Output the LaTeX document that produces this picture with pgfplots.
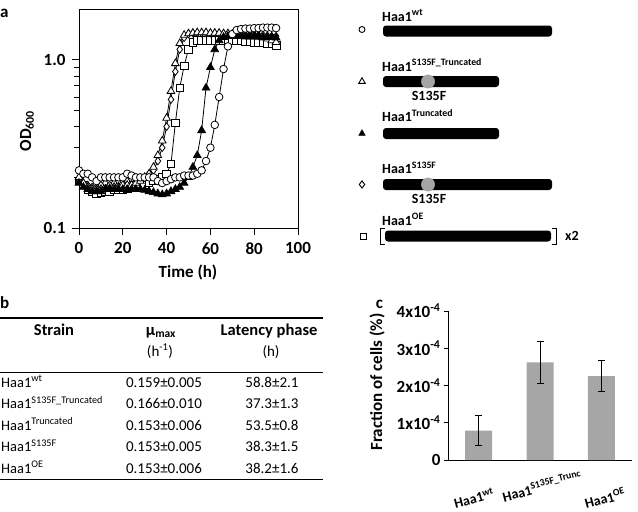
\documentclass[border=0pt]{standalone}
\usepackage{pgfplots}
\pgfplotsset{compat=1.18}
\usepackage{fontspec}
\setmainfont{Carlito}
\newcommand\FS[1]{\fontsize{#1}{#1}\selectfont}
\definecolor{bargray}{RGB}{166,166,166}
\definecolor{dotgray}{RGB}{165,165,165}
\pgfplotsset{ser/.style={black, line width=0.8pt, mark size=3.8pt, mark options={solid, line width=0.8pt, fill=white}}}

\begin{document}
\begin{tikzpicture}
\useasboundingbox (0,0) rectangle (638pt,-512pt);

% ---------------- panel a: growth curves
\begin{axis}[
  at={(79pt,-228pt)}, anchor=south west,
  scale only axis, width=219pt, height=219pt,
  xmin=0, xmax=100, ymode=log, ymin=0.1, ymax=2,
  xtick={0,20,40,60,80,100},
  ytick={0.1,1}, yticklabels={0.1,1.0},
  minor ytick={0.2,0.3,0.4,0.5,0.6,0.7,0.8,0.9},
  tick align=outside, tick pos=left,
  major tick length=7pt, minor tick length=5pt,
  every tick/.style={black, line width=0.8pt},
  axis line style={black, line width=0.8pt},
  ticklabel style={font=\FS{17}\bfseries},
  /pgf/number format/assume math mode=true,
  xticklabel style={yshift=-4pt},
  yticklabel style={xshift=-3pt},
  clip=false,
]
\addplot[ser, mark=square*] table {
0 0.19
2 0.18
4 0.17
6 0.165
8 0.16
10 0.162
12 0.165
14 0.165
16 0.168
18 0.17
20 0.17
22 0.172
24 0.175
26 0.175
28 0.178
30 0.18
32 0.185
34 0.19
36 0.195
38 0.20
40 0.21
42 0.24
44 0.42
46 0.68
48 0.92
50 1.15
52 1.27
54 1.30
56 1.30
58 1.30
60 1.30
62 1.30
64 1.30
66 1.30
68 1.30
70 1.30
72 1.29
74 1.29
76 1.28
78 1.28
80 1.27
82 1.27
84 1.26
86 1.25
88 1.24
90 1.22
};
\addplot[ser, mark=diamond*] table {
0 0.19
2 0.185
4 0.18
6 0.175
8 0.175
10 0.18
12 0.185
14 0.18
16 0.185
18 0.19
20 0.19
22 0.19
24 0.195
26 0.19
28 0.195
30 0.20
32 0.21
34 0.22
36 0.25
38 0.30
40 0.40
42 0.58
44 0.85
46 1.15
48 1.35
50 1.42
52 1.44
54 1.44
56 1.44
58 1.44
60 1.44
62 1.44
64 1.43
66 1.43
68 1.43
70 1.42
72 1.42
74 1.42
76 1.41
78 1.41
80 1.41
82 1.40
84 1.40
86 1.39
88 1.38
90 1.38
};
\addplot[ser, mark=triangle*, mark size=4.4pt] table {
0 0.20
2 0.185
4 0.175
6 0.17
8 0.17
10 0.17
12 0.17
14 0.172
16 0.175
18 0.175
20 0.18
22 0.18
24 0.18
26 0.185
28 0.19
30 0.20
32 0.21
34 0.23
36 0.27
38 0.33
40 0.45
42 0.65
44 0.95
46 1.25
48 1.40
50 1.43
52 1.44
54 1.45
56 1.45
58 1.45
60 1.44
62 1.44
64 1.44
66 1.43
68 1.43
70 1.42
72 1.42
74 1.41
76 1.40
78 1.40
80 1.39
82 1.37
84 1.35
86 1.33
88 1.30
90 1.27
};
\addplot[ser, mark=triangle*, mark size=4.4pt, mark options={fill=black}] table {
0 0.185
2 0.175
4 0.17
6 0.165
8 0.165
10 0.165
12 0.17
14 0.17
16 0.17
18 0.17
20 0.17
22 0.17
24 0.17
26 0.17
28 0.17
30 0.168
32 0.165
34 0.163
36 0.16
38 0.158
40 0.16
42 0.165
44 0.17
46 0.175
48 0.185
50 0.20
52 0.23
54 0.27
56 0.38
58 0.68
60 0.90
62 1.15
64 1.30
66 1.36
68 1.38
70 1.38
72 1.38
74 1.38
76 1.37
78 1.37
80 1.37
82 1.37
84 1.36
86 1.36
88 1.36
90 1.35
};
\addplot[ser, mark=*] table {
0 0.22
2 0.21
4 0.21
6 0.20
8 0.19
10 0.20
12 0.20
14 0.20
16 0.20
18 0.20
20 0.20
22 0.21
24 0.205
26 0.20
28 0.20
30 0.20
32 0.20
34 0.20
36 0.19
38 0.185
40 0.19
42 0.195
44 0.20
46 0.20
48 0.205
50 0.205
52 0.205
54 0.21
56 0.22
58 0.25
60 0.30
62 0.41
64 0.60
66 0.88
68 1.20
70 1.42
72 1.50
74 1.52
76 1.53
78 1.53
80 1.54
82 1.54
84 1.55
86 1.55
88 1.55
90 1.54
};
\end{axis}

% ---------------- panel a: legend / schematic
\begin{axis}[
  at={(340pt,0pt)}, anchor=north west,
  scale only axis, width=298pt, height=260pt,
  xmin=340, xmax=638, ymin=0, ymax=260, y dir=reverse,
  hide axis, clip=false,
]
\fill[rounded corners=3pt] (axis cs:383,25.5) rectangle (axis cs:552,36.5);
\fill[rounded corners=3pt] (axis cs:383,76) rectangle (axis cs:499,87);
\fill[rounded corners=3pt] (axis cs:383,128) rectangle (axis cs:499,139);
\fill[rounded corners=3pt] (axis cs:383,179) rectangle (axis cs:552,190);
\fill[rounded corners=3pt] (axis cs:385,230.5) rectangle (axis cs:551,241.5);
\draw[line width=1pt] (axis cs:384.5,228) -- (axis cs:380.5,228) -- (axis cs:380.5,244.5) -- (axis cs:384.5,244.5);
\draw[line width=1pt] (axis cs:552,228) -- (axis cs:556,228) -- (axis cs:556,244.5) -- (axis cs:552,244.5);
\addplot[only marks, mark=*, mark size=6.7pt, dotgray] coordinates {(428,81.5) (428,184.5)};
\addplot[only marks, black, mark=o, mark size=3pt, line width=0.9pt] coordinates {(362,29.5)};
\addplot[only marks, black, mark=triangle, mark size=3.8pt, line width=0.9pt] coordinates {(362,81.5)};
\addplot[only marks, black, mark=triangle*, mark size=3.8pt] coordinates {(362,133.5)};
\addplot[only marks, black, mark=diamond, mark size=3.6pt, line width=0.9pt] coordinates {(362,184.5)};
\addplot[only marks, black, mark=square, mark size=3pt, line width=0.9pt] coordinates {(363,236)};
\end{axis}

% ---------------- panel c: bar chart
\begin{axis}[
  at={(448pt,-460pt)}, anchor=south west,
  scale only axis, width=184pt, height=149pt,
  xmin=-0.5, xmax=2.5, ymin=0, ymax=4,
  axis x line=bottom, axis y line=left,
  axis line style={-, black, line width=0.8pt},
  ytick={0,1,2,3,4},
  yticklabels={0,1x10\textsuperscript{-4},2x10\textsuperscript{-4},3x10\textsuperscript{-4},4x10\textsuperscript{-4}},
  xtick=\empty, minor xtick={-0.5,0.5,1.5,2.5},
  tick align=outside, major tick length=4pt, minor tick length=4pt,
  every tick/.style={black, line width=0.8pt},
  ticklabel style={font=\FS{17}\bfseries},
  ybar, bar width=27pt,
]
\addplot[fill=bargray, draw=none,
  error bars/.cd, y dir=both, y explicit,
  error bar style={line width=1pt, black},
  error mark options={rotate=90, mark size=3.5pt, line width=1pt, black}]
  coordinates {(0,0.79) +- (0,0.41) (1,2.62) +- (0,0.56) (2,2.25) +- (0,0.42)};
\end{axis}

\begin{scope}[x=1pt,y=-1pt]
% panel a labels
\node[anchor=base west, inner sep=0, font=\FS{17}\bfseries] at (0,17) {a};
\node[anchor=base, inner sep=0, font=\FS{17}\bfseries] at (188,277) {Time (h)};
\node[rotate=90, inner sep=0, font=\FS{17}\bfseries] at (27,131) {OD\textsubscript{600}};
% legend labels
\node[anchor=base west, inner sep=0, font=\FS{14}\bfseries] at (382,21) {Haa1\textsuperscript{wt}};
\node[anchor=base west, inner sep=0, font=\FS{14}\bfseries] at (382,71) {Haa1\textsuperscript{S135F\_Truncated}};
\node[anchor=base, inner sep=0, font=\FS{14}\bfseries] at (429,100.5) {S135F};
\node[anchor=base west, inner sep=0, font=\FS{14}\bfseries] at (382,121.5) {Haa1\textsuperscript{Truncated}};
\node[anchor=base west, inner sep=0, font=\FS{14}\bfseries] at (382,173.5) {Haa1\textsuperscript{S135F}};
\node[anchor=base, inner sep=0, font=\FS{14}\bfseries] at (429,203.5) {S135F};
\node[anchor=base west, inner sep=0, font=\FS{14}\bfseries] at (382,225) {Haa1\textsuperscript{OE}};
\node[anchor=base west, inner sep=0, font=\FS{14}\bfseries] at (565,240) {x2};
% panel b table
\node[anchor=base west, inner sep=0, font=\FS{17}\bfseries] at (0,308) {b};
\draw[line width=1.8pt] (0,318.3) -- (323,318.3);
\draw[line width=0.9pt] (0,372) -- (323,372);
\draw[line width=1.8pt] (0,479.5) -- (323,479.5);
\node[anchor=base, inner sep=0, font=\FS{16.5}\bfseries] at (54,335) {Strain};
\node[anchor=base, inner sep=0, font=\FS{16.5}\bfseries] at (161,335) {µ\textsubscript{max}};
\node[anchor=base, inner sep=0, font=\FS{15}] at (160,356) {(h\textsuperscript{-1})};
\node[anchor=base, inner sep=0, font=\FS{16.5}\bfseries] at (269,335) {Latency phase};
\node[anchor=base, inner sep=0, font=\FS{15}] at (271,356) {(h)};
\foreach \lab/\mu/\lat/\yy in {
  Haa1\textsuperscript{wt}/0.159±0.005/58.8±2.1/387,
  Haa1\textsuperscript{S135F\_Truncated}/0.166±0.010/37.3±1.3/408.5,
  Haa1\textsuperscript{Truncated}/0.153±0.006/53.5±0.8/430,
  Haa1\textsuperscript{S135F}/0.153±0.005/38.3±1.5/451.5,
  Haa1\textsuperscript{OE}/0.153±0.006/38.2±1.6/473}{
  \node[anchor=base west, inner sep=0, font=\FS{14.5}] at (1,\yy) {\lab};
  \node[anchor=base, inner sep=0, font=\FS{15}] at (164,\yy) {\mu};
  \node[anchor=base, inner sep=0, font=\FS{15}] at (272,\yy) {\lat};
}
% panel c labels
\node[inner sep=0, font=\FS{17}\bfseries] at (379.5,304) {c};
\node[rotate=90, inner sep=0, font=\FS{17}\bfseries] at (377,382) {Fraction of cells (\%)};
\node[rotate=15, inner sep=0, font=\FS{14}\bfseries] at (474,498) {Haa1\textsuperscript{wt}};
\node[rotate=15, inner sep=0, font=\FS{14}\bfseries] at (542,486) {Haa1\textsuperscript{S135F\_Trunc}};
\node[rotate=15, inner sep=0, font=\FS{14}\bfseries] at (605,498) {Haa1\textsuperscript{OE}};
\end{scope}
\end{tikzpicture}
\end{document}
